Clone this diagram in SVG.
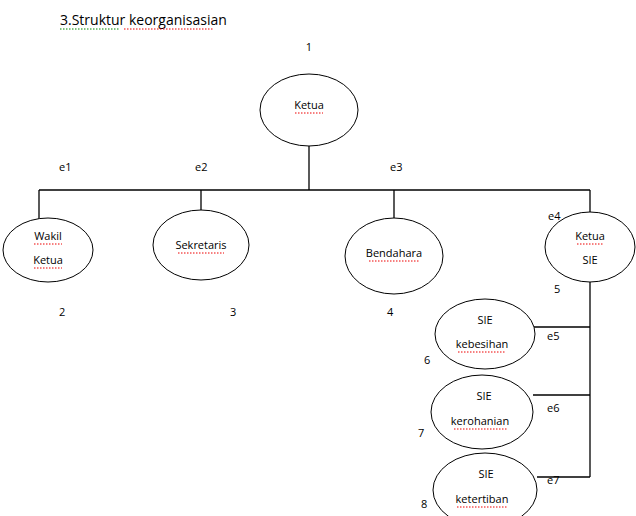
<svg xmlns="http://www.w3.org/2000/svg" width="636" height="516" viewBox="0 0 636 516">
<style>
text{font-family:"Open Sans","Liberation Sans",sans-serif;font-size:11px;fill:#000}
.t{text-anchor:middle}
ellipse{fill:#fff;stroke:#000;stroke-width:1}
.c line{stroke:#000;stroke-width:1.3}
.sq{stroke:#e00;stroke-width:1;stroke-dasharray:1.5 1.5;fill:none}
</style>
<rect width="636" height="516" fill="#fff"/>
<text x="60" y="25" style="font-size:14px">3.Struktur keorganisasian</text>
<line class="sq" x1="60" y1="29" x2="120" y2="29" style="stroke:#080"/>
<line class="sq" x1="124" y1="29" x2="213" y2="29"/>
<g class="c">
<line x1="309" y1="146" x2="309" y2="190"/>
<line x1="39" y1="190" x2="590" y2="190"/>
<line x1="39" y1="190" x2="39" y2="220"/>
<line x1="201" y1="190" x2="201" y2="211"/>
<line x1="394" y1="190" x2="394" y2="218"/>
<line x1="590" y1="190" x2="590" y2="212"/>
<line x1="590" y1="282" x2="590" y2="477"/>
<line x1="534" y1="327" x2="590" y2="327"/>
<line x1="533" y1="395" x2="590" y2="395"/>
<line x1="537" y1="477" x2="590" y2="477"/>
</g>
<g id="n1"><ellipse cx="309" cy="110" rx="49" ry="36"/><text class="t" x="309" y="109">Ketua</text><line class="sq" x1="295" y1="113" x2="323" y2="113"/></g>
<g id="n2"><ellipse cx="48" cy="250" rx="45" ry="32"/><text class="t" x="48" y="240">Wakil</text><text class="t" x="48" y="264">Ketua</text><line class="sq" x1="34" y1="244" x2="62" y2="244"/><line class="sq" x1="34" y1="268" x2="62" y2="268"/></g>
<g id="n3"><ellipse cx="201" cy="245" rx="48" ry="35"/><text class="t" x="201" y="249">Sekretaris</text><line class="sq" x1="178" y1="253" x2="224" y2="253"/></g>
<g id="n4"><ellipse cx="394" cy="256" rx="49" ry="38"/><text class="t" x="394" y="257">Bendahara</text><line class="sq" x1="369" y1="261" x2="419" y2="261"/></g>
<g id="n5"><ellipse cx="590" cy="247" rx="45" ry="35"/><text class="t" x="590" y="240">Ketua</text><text class="t" x="590" y="264">SIE</text><line class="sq" x1="577" y1="244" x2="603" y2="244"/></g>
<g id="n6"><ellipse cx="485" cy="334" rx="50" ry="35"/><text class="t" x="485" y="324">SIE</text><text class="t" x="482" y="348">kebesihan</text><line class="sq" x1="458" y1="352" x2="506" y2="352"/></g>
<g id="n7"><ellipse cx="482" cy="412" rx="51" ry="37"/><text class="t" x="484" y="400">SIE</text><text class="t" x="480" y="425">kerohanian</text><line class="sq" x1="454" y1="429" x2="507" y2="429"/></g>
<g id="n8"><ellipse cx="485" cy="490" rx="52" ry="37"/><text class="t" x="486" y="478">SIE</text><text class="t" x="482" y="503">ketertiban</text><line class="sq" x1="457" y1="507" x2="507" y2="507"/></g>
<text class="t" x="309" y="51">1</text>
<text x="59" y="171">e1</text><text x="195" y="171">e2</text><text x="390" y="171">e3</text><text x="548" y="220">e4</text>
<text x="59" y="316">2</text><text x="230" y="316">3</text><text x="387" y="316">4</text><text x="554" y="293">5</text>
<text x="424" y="364">6</text><text x="547" y="340">e5</text>
<text x="418" y="437">7</text><text x="547" y="412">e6</text>
<text x="421" y="508">8</text><text x="547" y="484">e7</text>
</svg>
